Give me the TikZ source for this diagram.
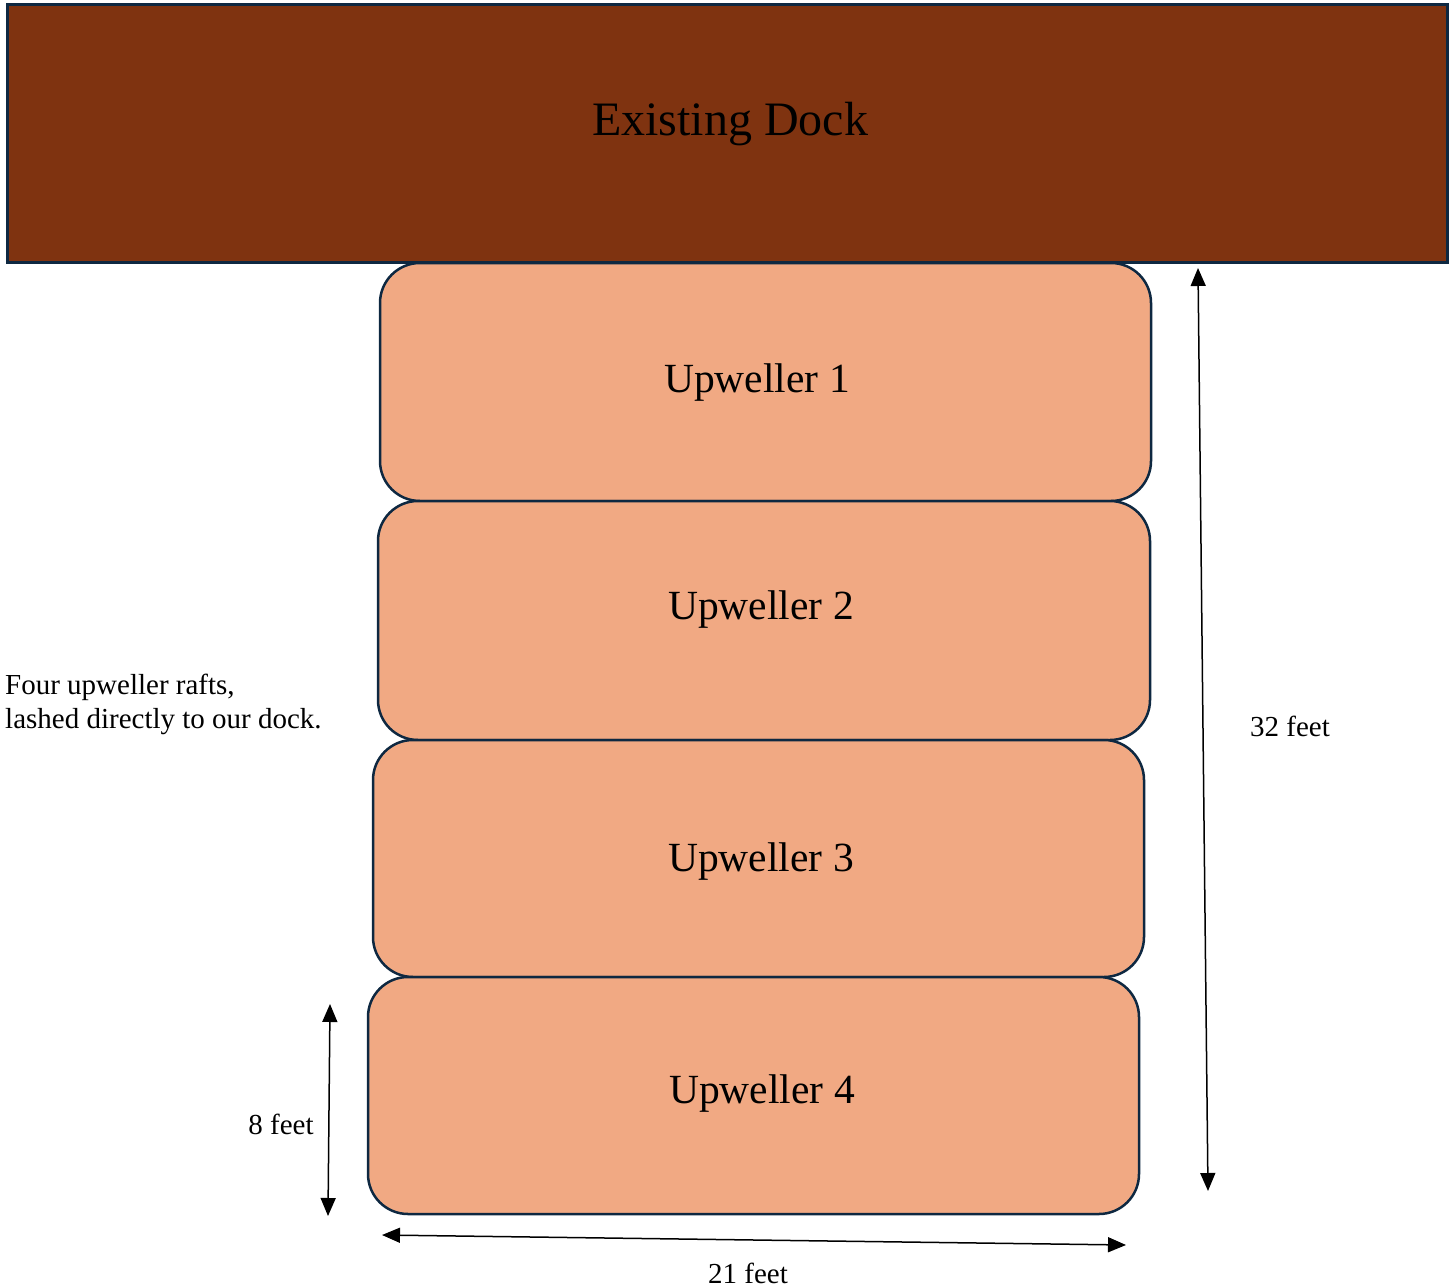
\documentclass[tikz,border=0pt]{standalone}
\usepackage{fontspec}
\setmainfont{Liberation Serif}
\usetikzlibrary{arrows.meta}
\definecolor{dockfill}{HTML}{7F3310}
\definecolor{raftfill}{HTML}{F1A983}
\definecolor{edgeblue}{HTML}{0E2841}
\begin{document}
\begin{tikzpicture}[x=1pt,y=-1pt,
  raft/.style={draw=edgeblue,line width=2.5pt,fill=raftfill,rounded corners=40pt},
  rlabel/.style={inner sep=0pt,font=\fontsize{41.5}{49}\selectfont},
  dim/.style={line width=1.5pt,{Triangle[width=15pt,length=18pt]}-{Triangle[width=15pt,length=18pt]}},
  small/.style={inner sep=0pt,font=\fontsize{29}{34}\selectfont}]
\useasboundingbox (0,0) rectangle (1454,1287);
% rafts
\draw[raft] (380,263) rectangle (1151,501);
\draw[raft] (378,501) rectangle (1150,740);
\draw[raft] (373,740) rectangle (1144,977);
\draw[raft] (368,977) rectangle (1139,1214);
% dock
\draw[draw=edgeblue,line width=3pt,fill=dockfill] (7,5) rectangle (1447,262);
\node[inner sep=0pt,font=\fontsize{48}{58}\selectfont] (dock) at (730,124) {Existing Dock};
\node[rlabel] (u1) at (757,383) {Upweller 1};
\node[rlabel] (u2) at (761,610) {Upweller 2};
\node[rlabel] (u3) at (761,862) {Upweller 3};
\node[rlabel] (u4) at (762,1094) {Upweller 4};
% left note
\node[small,anchor=base west] (n1) at (5,694) {Four upweller rafts,};
\node[small,anchor=base west] (n2) at (5,728) {lashed directly to our dock.};
% dimensions
\coordinate (a1) at (1198,268);
\coordinate (a2) at (1208,1191);
\draw[dim] (a1) -- (a2);
\node[small] (l32) at (1290,726) {32 feet};
\coordinate (b1) at (330,1004);
\coordinate (b2) at (328,1216);
\draw[dim] (b1) -- (b2);
\node[small] (l8) at (281,1124) {8 feet};
\coordinate (c1) at (382,1235);
\coordinate (c2) at (1126,1245);
\draw[dim] (c1) -- (c2);
\node[small,anchor=base] (l21) at (748,1283) {21 feet};
\end{tikzpicture}
\end{document}
